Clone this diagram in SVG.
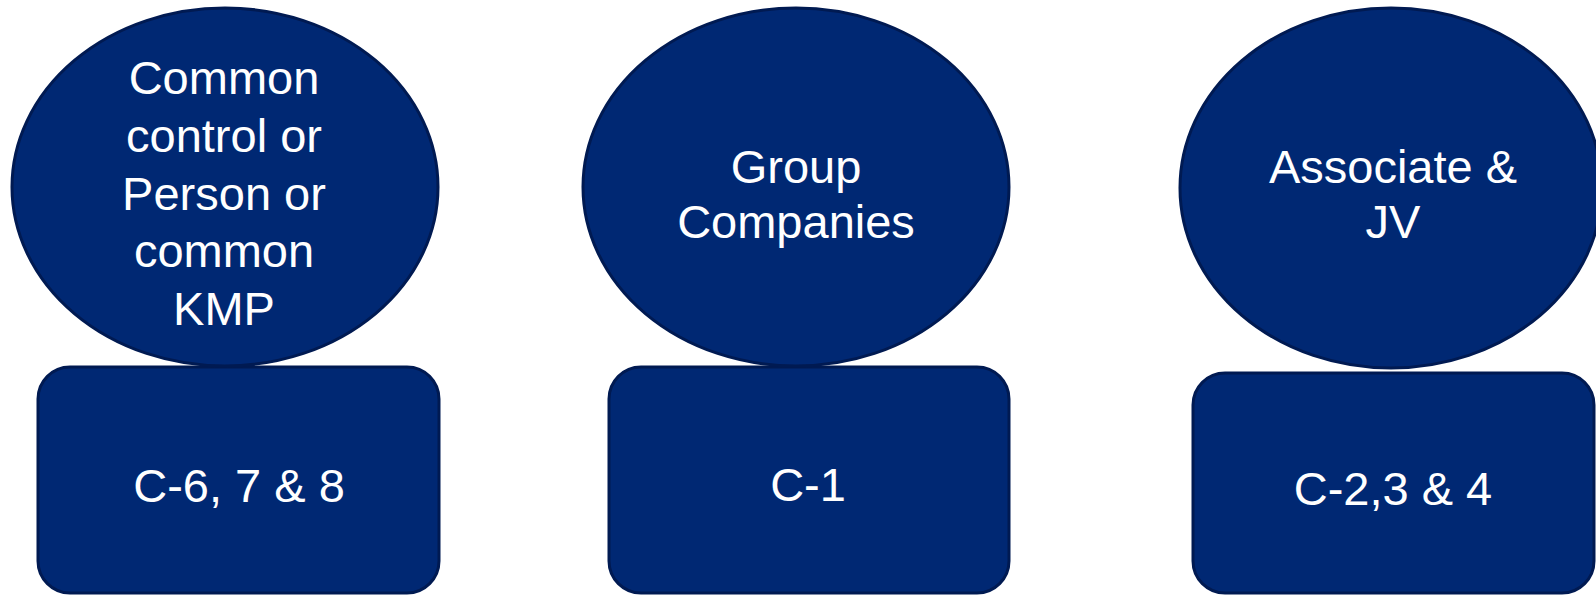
<svg xmlns="http://www.w3.org/2000/svg" width="1596" height="596" viewBox="0 0 1596 596">
  <style>
    .shape { fill: #002873; stroke: #001a52; stroke-width: 3; }
    .label { fill: #ffffff; font-family: "Liberation Sans", Arial, sans-serif; font-size: 47px; text-anchor: middle; }
  </style>
  <rect width="1596" height="596" fill="#ffffff"/>

  <!-- boxes sit below their ellipses -->
  <g id="box-c678">
    <rect class="shape" x="38" y="367" width="401" height="226" rx="32" ry="32"/>
    <text class="label" x="239" y="502">C-6, 7 &amp; 8</text>
  </g>
  <g id="box-c1">
    <rect class="shape" x="609" y="367" width="400" height="226" rx="32" ry="32"/>
    <text class="label" x="808" y="501">C-1</text>
  </g>
  <g id="box-c234">
    <rect class="shape" x="1193" y="373" width="401" height="220" rx="32" ry="32"/>
    <text class="label" x="1393" y="505">C-2,3 &amp; 4</text>
  </g>

  <g id="node-common-control">
    <ellipse class="shape" cx="225" cy="187" rx="213" ry="179"/>
    <text class="label" x="224" y="94">Common</text>
    <text class="label" x="224" y="152">control or</text>
    <text class="label" x="224" y="210">Person or</text>
    <text class="label" x="224" y="267">common</text>
    <text class="label" x="224" y="325">KMP</text>
  </g>
  <g id="node-group-companies">
    <ellipse class="shape" cx="796" cy="187" rx="213" ry="179"/>
    <text class="label" x="796" y="183">Group</text>
    <text class="label" x="796" y="238">Companies</text>
  </g>
  <g id="node-associate-jv">
    <ellipse class="shape" cx="1391" cy="188" rx="211" ry="180"/>
    <text class="label" x="1393" y="183">Associate &amp;</text>
    <text class="label" x="1393" y="238">JV</text>
  </g>

  <g id="connectors"/>
</svg>
